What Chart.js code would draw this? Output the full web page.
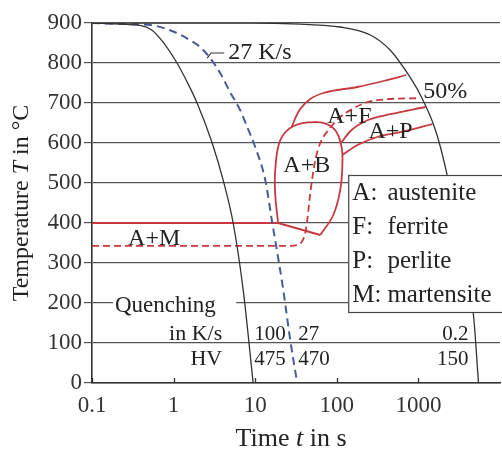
<!DOCTYPE html>
<html>
<head>
<meta charset="utf-8">
<script src="https://cdn.jsdelivr.net/npm/chart.js@4.4.1/dist/chart.umd.min.js"></script>
<style>
  html, body { margin: 0; padding: 0; background: #fff; }
  #wrap { width: 502px; height: 452px; }
</style>
</head>
<body>
<div id="wrap"><canvas id="cct" width="502" height="452"></canvas></div>
<script>
const serif = '"Liberation Serif", "Times New Roman", serif';
const ink = '#222';
const red = '#c63a3f';

// cooling curves: time in s, temperature in °C
const fastTime = [0.1, 0.22, 0.388, 0.544, 0.743, 1.10, 1.47, 1.94, 2.97, 4.05, 5.37, 7.13, 9.44];
const fastTemp = [900, 897, 894, 882, 852, 800, 752, 700, 600, 507, 400, 232, 0];

const critTime = [0.1, 0.29, 0.515, 0.906, 1.59, 2.11, 2.81, 3.72, 4.93, 6.55, 7.98, 10, 13.3, 16.2, 18.1, 22.1, 26.9, 32.7];
const critTemp = [900, 897, 895, 882, 857, 840, 812, 775, 727, 682, 640, 590, 507, 400, 342, 232, 107, 0];

const slowTime = [0.1, 8.7, 35.6, 110, 258, 453, 692, 1058, 1620, 2210, 3270, 4730, 5450];
const slowTemp = [900, 900, 897, 890, 870, 832, 782, 720, 632, 527, 345, 170, 0];

// transformation lines
const msTime = [0.1, 19.1, 62.8];
const msTemp = [400, 400, 370];

const bainTime = [62.8, 90.6, 110, 117, 113, 90.6, 57.7, 29.2, 20.3, 17.6, 17.6, 19.1];
const bainTemp = [370, 420, 482, 545, 595, 637, 652, 642, 607, 532, 470, 400];

const ferrTime = [27.7, 31, 35.6, 47.3, 68.3, 179, 372, 713];
const ferrTemp = [637, 662, 685, 710, 725, 740, 755, 770];

const halfTime = [0.1, 26.9, 32.7, 37.8, 41.1, 43.5, 47.3, 54.5, 62.8, 78.7, 110, 155, 237, 453, 1000];
const halfTemp = [343, 343, 345, 355, 375, 407, 475, 557, 600, 632, 665, 685, 702, 710, 712];

const pearStartTime = [113, 147, 237, 453, 1220];
const pearStartTemp = [600, 630, 657, 672, 690];

const pearEndTime = [117, 179, 314, 601, 1486];
const pearEndTemp = [570, 595, 615, 627, 647];

const leaderTime = [2.58, 2.88, 4.17];
const leaderTemp = [812, 825, 825];

// axis ticks
const xTickValues = [0.1, 1, 10, 100, 1000];
const xTickLabels = ['0.1', '1', '10', '100', '1000'];

// labels inside the plot (left/right edge time, baseline temperature)
const labelText = ['27 K/s', '50%', 'A+F', 'A+P', 'A+B', 'A+M'];
const labelTime = [4.67, 1150, 76.4, 244, 22.1, 0.277];
const labelTemp = [810, 712.5, 650, 612.5, 527.5, 345];

const rateLabels = ['100', '27', '0.2'];
const hvLabels = ['475', '470', '150'];
const tableTime = [9.73, 33.7, 4100];
const tableAlign = ['left', 'left', 'right'];

const keyLetters = ['A:', 'F:', 'P:', 'M:'];
const keyNames = ['austenite', 'ferrite', 'perlite', 'martensite'];
const keyTemp = [457.5, 372.5, 287.5, 202.5];

let pts = (ts, Ts) => ts.map((t, i) => ({ x: t, y: Ts[i] }));

let curve = (ts, Ts, color, width, dash, tension, mono) => ({
    data: pts(ts, Ts),
    borderColor: color,
    borderWidth: width,
    borderDash: dash,
    tension: tension,
    cubicInterpolationMode: mono ? 'monotone' : 'default',
    pointRadius: 0,
    fill: false
});

let mixedText = (ctx, parts, size, x, y) => {
    let total = 0;
    parts.forEach(p => {
        ctx.font = (p[1] ? 'italic ' : '') + size + 'px ' + serif;
        total += ctx.measureText(p[0]).width;
    });
    let cx = x - total / 2;
    parts.forEach(p => {
        ctx.font = (p[1] ? 'italic ' : '') + size + 'px ' + serif;
        ctx.fillText(p[0], cx, y);
        cx += ctx.measureText(p[0]).width;
    });
};

const cctText = {
    id: 'cctText',
    afterDatasetsDraw(chart) {
        const ctx = chart.ctx;
        const xs = chart.scales.x, ys = chart.scales.y;
        const px = t => xs.getPixelForValue(t);
        const py = T => ys.getPixelForValue(T);
        ctx.save();

        // white patch behind "Quenching"
        ctx.fillStyle = '#fff';
        ctx.fillRect(px(0.181), py(217.5), px(5.85) - px(0.181), py(180) - py(217.5));

        // key box
        ctx.fillRect(px(138), py(520), 200, py(177.5) - py(520));
        ctx.strokeStyle = '#444';
        ctx.lineWidth = 1.2;
        ctx.strokeRect(px(138) + 0.5, py(520) + 0.5, 200, py(177.5) - py(520));

        ctx.fillStyle = ink;
        ctx.textBaseline = 'alphabetic';
        ctx.font = '24px ' + serif;
        ctx.textAlign = 'left';
        labelText.forEach((s, i) => ctx.fillText(s, px(labelTime[i]), py(labelTemp[i])));

        ctx.font = '25px ' + serif;
        keyLetters.forEach((s, i) => {
            ctx.fillText(s, px(155), py(keyTemp[i]));
            ctx.fillText(keyNames[i], px(417), py(keyTemp[i]));
        });

        ctx.font = '23px ' + serif;
        ctx.fillText('Quenching', px(0.191), py(177.5));
        ctx.font = '22px ' + serif;
        ctx.textAlign = 'right';
        ctx.fillText('in K/s', px(3.94), py(107.5));
        ctx.fillText('HV', px(3.94), py(45));

        ctx.font = '21px ' + serif;
        rateLabels.forEach((s, i) => {
            ctx.textAlign = tableAlign[i];
            ctx.fillText(s, px(tableTime[i]), py(107.5));
            ctx.fillText(hvLabels[i], px(tableTime[i]), py(45));
        });
        ctx.restore();
    },
    afterDraw(chart) {
        const ctx = chart.ctx;
        const area = chart.chartArea;
        const xs = chart.scales.x;
        ctx.save();
        ctx.strokeStyle = '#333';
        ctx.lineWidth = 1.3;
        xTickValues.forEach(v => {
            const x = Math.round(xs.getPixelForValue(v)) + 0.5;
            ctx.beginPath();
            ctx.moveTo(x, area.bottom);
            ctx.lineTo(x, area.bottom - 5);
            ctx.stroke();
        });

        ctx.fillStyle = ink;
        ctx.textBaseline = 'alphabetic';
        mixedText(ctx, [['Time ', false], ['t', true], [' in s', false]], 26,
            (area.left + area.right) / 2 - 5, area.bottom + 63);

        ctx.translate(area.left - 64, (area.top + area.bottom) / 2);
        ctx.rotate(-Math.PI / 2);
        mixedText(ctx, [['Temperature ', false], ['T', true], [' in °C', false]], 24, 0, 0);
        ctx.restore();
    }
};

let ctx = document.querySelector('#cct').getContext('2d');

let chart = new Chart(ctx, {
    type: 'line',
    data: {
        datasets: [
            curve(fastTime, fastTemp, '#333', 1.3, [], 0.4, true),
            curve(slowTime, slowTemp, '#333', 1.3, [], 0.4, true),
            curve(critTime, critTemp, '#4b5a94', 2, [8, 5], 0.4, true),
            curve(leaderTime, leaderTemp, '#333', 1.2, [], 0, false),
            curve(msTime, msTemp, red, 2, [], 0, false),
            curve(bainTime, bainTemp, red, 1.8, [], 0.4, false),
            curve(ferrTime, ferrTemp, red, 1.8, [], 0.4, true),
            curve(halfTime, halfTemp, red, 1.8, [7, 4], 0.35, true),
            curve(pearStartTime, pearStartTemp, red, 1.8, [], 0.4, true),
            curve(pearEndTime, pearEndTemp, red, 1.8, [], 0.4, true)
        ]
    },
    options: {
        responsive: false,
        animation: false,
        devicePixelRatio: 1,
        layout: { padding: { top: 23, right: 2, left: 0, bottom: 0 } },
        plugins: { legend: { display: false }, tooltip: { enabled: false } },
        scales: {
            x: {
                type: 'logarithmic',
                min: 0.1,
                max: 10000,
                afterBuildTicks: s => { s.ticks = xTickValues.map(v => ({ value: v })); },
                afterFit: s => { s.height = 69; },
                ticks: {
                    callback: (v, i) => xTickLabels[i],
                    autoSkip: false,
                    maxRotation: 0,
                    padding: 9,
                    color: '#333',
                    font: { family: serif, size: 23 }
                },
                grid: { display: false, drawTicks: false },
                border: { display: true, color: '#333', width: 1.6 }
            },
            y: {
                min: 0,
                max: 900,
                afterFit: s => { s.width = 92; },
                ticks: {
                    stepSize: 100,
                    padding: 2,
                    color: '#333',
                    font: { family: serif, size: 23 }
                },
                grid: { color: '#555', lineWidth: 1.2, tickLength: 8 },
                border: { display: true, color: '#333', width: 1.6 }
            }
        }
    },
    plugins: [cctText]
});
</script>
</body>
</html>
